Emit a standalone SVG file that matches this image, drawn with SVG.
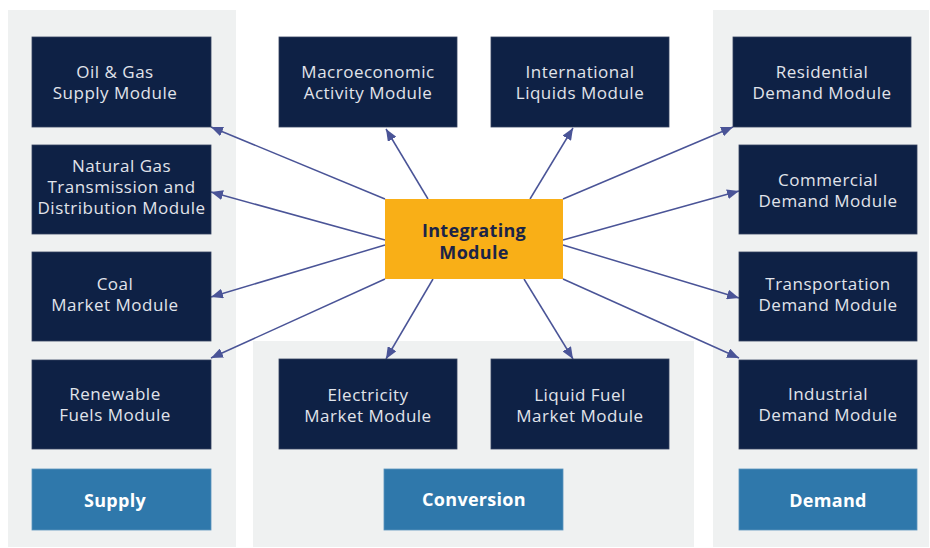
<svg xmlns="http://www.w3.org/2000/svg" width="930" height="548" viewBox="0 0 930 548">
<style>
.panel{fill:#EFF1F1}
.node rect{fill:#0E2145;stroke:#34415f;stroke-width:0.8}
.node text{fill:#E1E4EB;font-family:"Open Sans","Liberation Sans",sans-serif;font-size:17px;letter-spacing:0.5px;text-anchor:middle}
.lab rect{fill:#2F78AB;stroke:#5a93bd;stroke-width:0.8}
.lab text{fill:#FFFFFF;font-family:"Open Sans","Liberation Sans",sans-serif;font-size:18px;font-weight:bold;letter-spacing:0.3px;text-anchor:middle}
.hub rect{fill:#F9AF17}
.hub text{fill:#1B2447;font-family:"Open Sans","Liberation Sans",sans-serif;font-size:18px;font-weight:bold;letter-spacing:0.3px;text-anchor:middle}
.conn line{stroke:#4A5497;stroke-width:1.5;marker-end:url(#ah)}
</style>
<defs>
<marker id="ah" viewBox="0 0 12 10" refX="12" refY="5" markerWidth="12" markerHeight="10" markerUnits="userSpaceOnUse" orient="auto">
<path d="M0,0 L12,5 L0,10 z" fill="#4A5497"/>
</marker>
</defs>
<rect width="930" height="548" fill="#FFFFFF"/>
<g id="panels">
<rect class="panel" x="8" y="10" width="228" height="537"/>
<rect class="panel" x="253" y="341" width="441" height="206"/>
<rect class="panel" x="713" y="10" width="216" height="537"/>
</g>
<g id="connectors" class="conn">
<line x1="385" y1="199" x2="211" y2="127"/>
<line x1="385" y1="240" x2="211" y2="192"/>
<line x1="385" y1="245" x2="211" y2="297"/>
<line x1="385" y1="279" x2="211" y2="358"/>
<line x1="428" y1="199" x2="386" y2="129"/>
<line x1="530" y1="199" x2="573" y2="128"/>
<line x1="563" y1="199" x2="733" y2="127"/>
<line x1="563" y1="240" x2="739" y2="191"/>
<line x1="563" y1="245" x2="739" y2="298"/>
<line x1="563" y1="279" x2="739" y2="358"/>
<line x1="433" y1="279" x2="386" y2="359"/>
<line x1="524" y1="279" x2="573" y2="359"/>
</g>
<g id="oil-gas" class="node"><rect x="32" y="37" width="179" height="90"/><text x="115" y="78">Oil &amp; Gas</text><text x="115" y="99">Supply Module</text></g>
<g id="natural-gas" class="node"><rect x="32" y="145" width="179" height="89"/><text x="121.5" y="171.5">Natural Gas</text><text x="121.5" y="192.5">Transmission and</text><text x="121.5" y="213.5">Distribution Module</text></g>
<g id="coal" class="node"><rect x="32" y="252" width="179" height="89"/><text x="115" y="290">Coal</text><text x="115" y="311">Market Module</text></g>
<g id="renewable" class="node"><rect x="32" y="360" width="179" height="89"/><text x="115" y="400">Renewable</text><text x="115" y="421">Fuels Module</text></g>
<g id="supply" class="lab"><rect x="32" y="469" width="179" height="61"/><text x="115" y="507">Supply</text></g>
<g id="macro" class="node"><rect x="279" y="37" width="178" height="90"/><text x="368" y="78">Macroeconomic</text><text x="368" y="99">Activity Module</text></g>
<g id="international" class="node"><rect x="491" y="37" width="178" height="90"/><text x="580" y="78">International</text><text x="580" y="99">Liquids Module</text></g>
<g id="integrating" class="hub"><rect x="385" y="199" width="178" height="80"/><text x="474" y="237">Integrating</text><text x="474" y="259">Module</text></g>
<g id="electricity" class="node"><rect x="279" y="359" width="178" height="90"/><text x="368" y="401">Electricity</text><text x="368" y="422">Market Module</text></g>
<g id="liquid-fuel" class="node"><rect x="491" y="359" width="178" height="90"/><text x="580" y="401">Liquid Fuel</text><text x="580" y="422">Market Module</text></g>
<g id="conversion" class="lab"><rect x="384" y="469" width="179" height="61"/><text x="474" y="506">Conversion</text></g>
<g id="residential" class="node"><rect x="733" y="37" width="178" height="90"/><text x="822" y="78">Residential</text><text x="822" y="99">Demand Module</text></g>
<g id="commercial" class="node"><rect x="739" y="145" width="178" height="89"/><text x="828" y="185.5">Commercial</text><text x="828" y="206.5">Demand Module</text></g>
<g id="transportation" class="node"><rect x="739" y="252" width="178" height="89"/><text x="828" y="290">Transportation</text><text x="828" y="311">Demand Module</text></g>
<g id="industrial" class="node"><rect x="739" y="360" width="178" height="89"/><text x="828" y="400">Industrial</text><text x="828" y="421">Demand Module</text></g>
<g id="demand" class="lab"><rect x="739" y="469" width="178" height="61"/><text x="828" y="507">Demand</text></g>
</svg>
